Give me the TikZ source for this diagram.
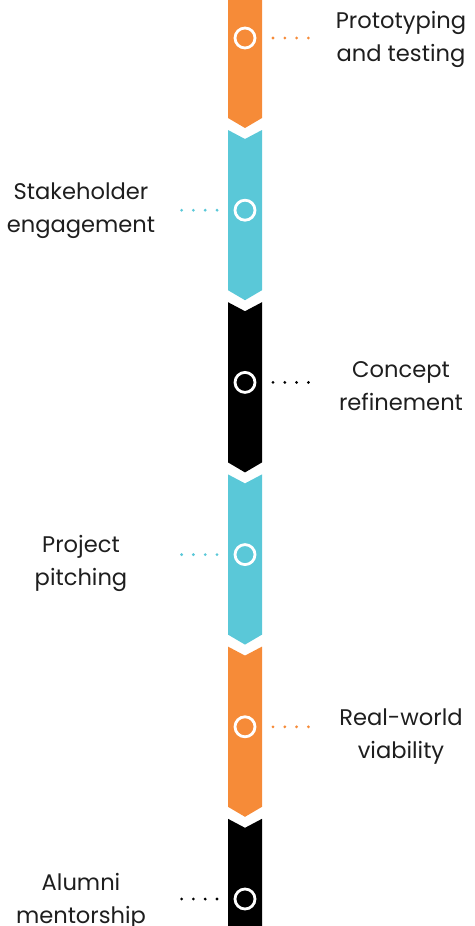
\documentclass[tikz,border=0pt]{standalone}
\usepackage{fontspec}
\setmainfont{Poppins}
\definecolor{ora}{HTML}{F68B38}
\definecolor{cya}{HTML}{5AC8D8}
\definecolor{blk}{HTML}{000000}
\definecolor{txt}{HTML}{1E1E1E}
\tikzset{
  ring/.style={circle, draw=white, line width=2.8pt, minimum size=20pt, inner sep=0pt, outer sep=0pt},
  dotline/.style={line width=3.1pt, line cap=round, dash pattern=on 0pt off 11.8pt},
  lbl/.style={align=center, text=txt, font=\fontsize{22.6}{33}\selectfont, anchor=base, inner sep=0pt},
}
\begin{document}
\begin{tikzpicture}[x=1pt,y=-1pt]
\useasboundingbox (0,0) rectangle (474,926);
\def\P{172.2}
% segments
\foreach \k/\c in {0/ora,1/cya,2/blk,3/cya,4/ora,5/blk}{
  \pgfmathsetmacro{\yt}{ifthenelse(\k==0,-2,\P*\k-42.2)}
  \pgfmathsetmacro{\yn}{ifthenelse(\k==0,-2,\P*\k-42.2+9)}
  \pgfmathsetmacro{\yb}{ifthenelse(\k==5,928,118+\P*\k)}
  \pgfmathsetmacro{\yp}{ifthenelse(\k==5,928,128+\P*\k)}
  \fill[\c] (228,\yt) -- (245,\yn) -- (262,\yt) -- (262,\yb) -- (245,\yp) -- (228,\yb) -- cycle;
}
% rings
\node[ring] (c1) at (245,38) {};
\node[ring] (c2) at (245,210.2) {};
\node[ring] (c3) at (245,382.4) {};
\node[ring] (c4) at (245,554.6) {};
\node[ring] (c5) at (245,726.8) {};
\node[ring] (c6) at (245,899) {};
% dotted leaders
\draw[dotline, ora] ([xshift=18pt]c1.east) -- ([xshift=53.4pt]c1.east);
\draw[dotline, cya] ([xshift=-18pt]c2.west) -- ([xshift=-53.4pt]c2.west);
\draw[dotline, blk] ([xshift=18pt]c3.east) -- ([xshift=53.4pt]c3.east);
\draw[dotline, cya] ([xshift=-18pt]c4.west) -- ([xshift=-53.4pt]c4.west);
\draw[dotline, ora] ([xshift=18pt]c5.east) -- ([xshift=53.4pt]c5.east);
\draw[dotline, blk] ([xshift=-18pt]c6.west) -- ([xshift=-53.4pt]c6.west);
% labels (anchored at the baseline of the last line)
\node[lbl] (l1) at (401,61) {Prototyping\\and testing};
\node[lbl] (l2) at (81,232) {Stakeholder\\engagement};
\node[lbl] (l3) at (401,410) {Concept\\refinement};
\node[lbl] (l4) at (81,585) {Project\\pitching};
\node[lbl] (l5) at (401,758) {Real-world\\viability};
\node[lbl] (l6) at (81,923) {Alumni\\mentorship};
\end{tikzpicture}
\end{document}
